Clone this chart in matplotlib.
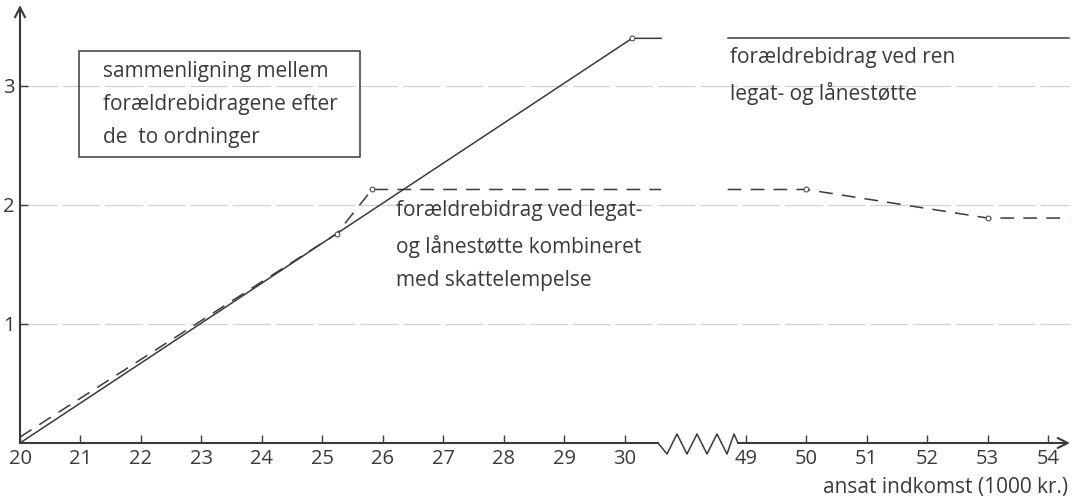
import numpy as np
import matplotlib.pyplot as plt
from matplotlib.patches import Rectangle

# data (ansat indkomst in 1000 kr., forældrebidrag)
ren_x_left = [20, 30.12, 30.6]
ren_y_left = [0, 3.40, 3.40]
ren_x_right = [48.7, 54.35]
ren_y_right = [3.40, 3.40]
ren_marks_x = [30.12]
ren_marks_y = [3.40]

komb_x_left = [20, 25.24, 25.82, 30.6]
komb_y_left = [0.05, 1.76, 2.13, 2.13]
komb_x_right = [48.7, 50, 53, 54.35]
komb_y_right = [2.13, 2.13, 1.89, 1.89]
komb_marks_x = [25.24, 25.82, 50, 53]
komb_marks_y = [1.76, 2.13, 2.13, 1.89]

xticks = [20, 21, 22, 23, 24, 25, 26, 27, 28, 29, 30, 49, 50, 51, 52, 53, 54]
yticks = [1, 2, 3]

ink = '#3a3a3a'
fs = 15
plt.rcParams['font.family'] = ['Open Sans', 'DejaVu Sans']


def fwd(x):
    x = np.asarray(x, dtype=float)
    return np.where(x <= 30.8, x,
                    np.where(x >= 48.2, x - 17, 30.8 + (x - 30.8) * 0.4 / 17.4))


def inv(d):
    d = np.asarray(d, dtype=float)
    return np.where(d <= 30.8, d,
                    np.where(d >= 31.2, d + 17, 30.8 + (d - 30.8) * 17.4 / 0.4))


fig = plt.figure(figsize=(10.8, 5.01), dpi=100)
ax = fig.add_axes([20 / 1080, 1 - 443 / 501, 1050 / 1080, 438 / 501])
ax.set_xscale('function', functions=(fwd, inv))
ax.set_xlim(20, 54.36)
ax.set_ylim(0, 3.68)
for s in ax.spines.values():
    s.set_visible(False)

# grid
for g in yticks:
    ax.axhline(g, color='#d2d2d2', lw=0.9, ls=(0, (30, 4)), zorder=0)

# curves
ax.plot(ren_x_left, ren_y_left, color=ink, lw=1.1)
ax.plot(ren_x_right, ren_y_right, color=ink, lw=1.1)
ax.plot(ren_marks_x, ren_marks_y, 'o', ms=3.5, mfc='white', mec=ink, mew=0.7)
ax.plot(komb_x_left, komb_y_left, color=ink, lw=1.1, ls=(0, (9, 6)))
ax.plot(komb_x_right, komb_y_right, color=ink, lw=1.1, ls=(0, (9, 6)))
ax.plot(komb_marks_x, komb_marks_y, 'o', ms=3.5, mfc='white', mec=ink, mew=0.7)

# ticks
ax.set_xticks(xticks)
ax.set_xticklabels([str(t) for t in xticks])
ax.set_yticks(yticks)
ax.set_yticklabels([str(t) for t in yticks])
ax.xaxis.set_minor_locator(plt.NullLocator())
ax.tick_params(axis='both', direction='in', length=6, width=1, color=ink,
               labelsize=14.5, labelcolor=ink)
ax.tick_params(axis='x', pad=4)
ax.tick_params(axis='y', pad=4)

# axes lines with break
bt = ax.get_yaxis_transform()
ax.plot([0, (658 - 20) / 1050], [0, 0], transform=bt, color=ink, lw=1.5, clip_on=False)
zz_px = [658, 667, 677, 687, 697, 707, 717, 727, 734, 738]
zz_y = [0, 11, -9, 11, -9, 11, -9, 11, -9, 0]
ax.plot([(p - 20) / 1050 for p in zz_px], [-v / 119 for v in zz_y], transform=bt,
        color=ink, lw=1.1, clip_on=False)
ax.annotate('', xy=(1.0, 0), xytext=((738 - 20) / 1050, 0), xycoords=bt, textcoords=bt,
            arrowprops=dict(arrowstyle='->', color=ink, lw=1.5, mutation_scale=18,
                            shrinkA=0, shrinkB=0))
ax.annotate('', xy=(0, 1.0), xytext=(0, 0), xycoords='axes fraction',
            arrowprops=dict(arrowstyle='->', color=ink, lw=1.5, mutation_scale=18,
                            shrinkA=0, shrinkB=0))

# text box
ax.add_patch(Rectangle((20.98, 2.40), 25.62 - 20.98, 3.29 - 2.40, fill=False,
                       edgecolor=ink, lw=1.1))
ax.text(21.37, 2.84, 'sammenligning mellem\nforældrebidragene efter\nde  to ordninger',
        fontsize=fs, color=ink, va='center', ha='left', linespacing=1.75)

ax.text(48.74, 3.085, 'forældrebidrag ved ren\nlegat- og lånestøtte',
        fontsize=fs, color=ink, va='center', ha='left', linespacing=1.75)
ax.text(26.21, 1.66, 'forældrebidrag ved legat-\nog lånestøtte kombineret\nmed skattelempelse',
        fontsize=fs, color=ink, va='center', ha='left', linespacing=1.75)

fig.text(1068 / 1080, 1 - 488 / 501, 'ansat indkomst (1000 kr.)', fontsize=fs,
         color=ink, ha='right', va='center')

fig.savefig('out.png', dpi=100)
